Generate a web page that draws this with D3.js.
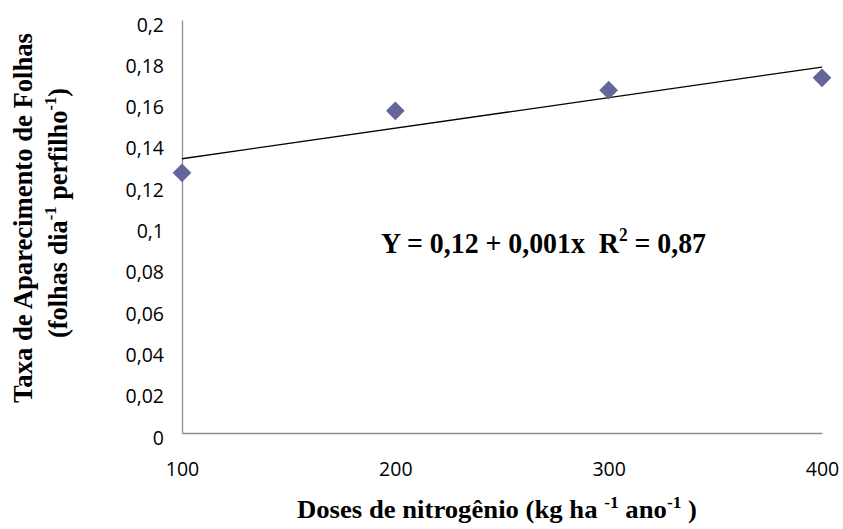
<!DOCTYPE html>
<html>
<head>
<meta charset="utf-8">
<script src="https://cdn.jsdelivr.net/npm/d3@7"></script>
<style>
  html, body { margin: 0; padding: 0; background: #ffffff; }
  svg { display: block; }
</style>
</head>
<body>
<svg id="chart" width="843" height="529"></svg>
<script>
// ---- data ----
const doses = [100, 200, 300, 400];
const taxa = [0.126, 0.156, 0.166, 0.172];
const xTickValues = [100, 200, 300, 400];
const yTickValues = [0, 0.02, 0.04, 0.06, 0.08, 0.1, 0.12, 0.14, 0.16, 0.18, 0.2];
const yTickLabels = ["0", "0,02", "0,04", "0,06", "0,08", "0,1", "0,12", "0,14", "0,16", "0,18", "0,2"];
const xTickLabels = ["100", "200", "300", "400"];

const svg = d3.select("#chart");
const x = d3.scaleLinear().domain([100, 400]).range([182, 822]);
const y = d3.scaleLinear().domain([0, 0.2]).range([433, 20]);

const tickFont = "'Open Sans', 'Noto Sans', sans-serif";
const serif = "'Liberation Serif', 'Times New Roman', serif";

// axes (no tick marks)
const yAxis = d3.axisLeft(y).tickValues(yTickValues).tickSize(0).tickPadding(0)
  .tickFormat((d, i) => yTickLabels[i]);
const gy = svg.append("g").attr("transform", `translate(${x.range()[0]},0)`).call(yAxis);
gy.select(".domain").attr("stroke", "#8c8c8c").attr("stroke-width", 1.3);
gy.selectAll(".tick text")
  .attr("x", -18).attr("dy", null).attr("y", 11)
  .attr("font-family", tickFont).attr("font-size", 19.5).attr("fill", "#000");

const xAxis = d3.axisBottom(x).tickValues(xTickValues).tickSize(0).tickPadding(0)
  .tickFormat((d, i) => xTickLabels[i]);
const gx = svg.append("g").attr("transform", `translate(0,${y(0)})`).call(xAxis);
gx.select(".domain").attr("stroke", "#8c8c8c").attr("stroke-width", 1.3);
gx.selectAll(".tick text")
  .attr("dy", null).attr("y", 43)
  .attr("font-family", tickFont).attr("font-size", 19.5).attr("fill", "#000");

// linear regression trend line
const mx = d3.mean(doses), my = d3.mean(taxa);
const slope = d3.sum(doses, (d, i) => (d - mx) * (taxa[i] - my)) / d3.sum(doses, d => (d - mx) ** 2);
const intercept = my - slope * mx;
const ends = [d3.min(doses), d3.max(doses)];
svg.append("path")
  .attr("d", d3.line().x(d => x(d)).y(d => y(intercept + slope * d))(ends))
  .attr("stroke", "#000").attr("stroke-width", 1.3).attr("fill", "none");

// points (diamonds)
const diamond = d3.symbol().type(d3.symbolSquare).size(175);
svg.append("g").selectAll("path").data(doses).join("path")
  .attr("d", diamond)
  .attr("transform", (d, i) => `translate(${x(d)},${y(taxa[i])}) rotate(45)`)
  .attr("fill", "#65659b");

// equation
const eq = svg.append("text")
  .attr("x", 381).attr("y", 253)
  .attr("font-family", serif).attr("font-weight", "bold").attr("font-size", 29)
  .attr("textLength", 325).attr("lengthAdjust", "spacingAndGlyphs")
  .attr("fill", "#000");
eq.append("tspan").text("Y = 0,12 + 0,001x\u00a0\u00a0R");
eq.append("tspan").attr("dy", -12).attr("font-size", 18).text("2");
eq.append("tspan").attr("dy", 12).text(" = 0,87");

// x axis title
const xt = svg.append("text")
  .attr("x", 297).attr("y", 518)
  .attr("font-family", serif).attr("font-weight", "bold").attr("font-size", 24.5)
  .attr("textLength", 400).attr("lengthAdjust", "spacingAndGlyphs")
  .attr("fill", "#000");
xt.append("tspan").text("Doses de nitrogênio (kg ha ");
xt.append("tspan").attr("dy", -10).attr("font-size", 16).text("-1");
xt.append("tspan").attr("dy", 10).text(" ano");
xt.append("tspan").attr("dy", -10).attr("font-size", 16).text("-1");
xt.append("tspan").attr("dy", 10).text(" )");

// y axis title (two lines)
const yt1 = svg.append("text")
  .attr("transform", "translate(32,403) rotate(-90)")
  .attr("x", 0).attr("y", 0)
  .attr("font-family", serif).attr("font-weight", "bold").attr("font-size", 27)
  .attr("textLength", 370).attr("lengthAdjust", "spacingAndGlyphs")
  .attr("fill", "#000")
  .text("Taxa de Aparecimento de Folhas");

const yt2 = svg.append("text")
  .attr("transform", "translate(67,338) rotate(-90)")
  .attr("x", 0).attr("y", 0)
  .attr("font-family", serif).attr("font-weight", "bold").attr("font-size", 27)
  .attr("textLength", 250).attr("lengthAdjust", "spacingAndGlyphs")
  .attr("fill", "#000");
yt2.append("tspan").text("(folhas dia");
yt2.append("tspan").attr("dy", -11).attr("font-size", 17).text("-1");
yt2.append("tspan").attr("dy", 11).text(" perfilho");
yt2.append("tspan").attr("dy", -11).attr("font-size", 17).text("-1");
yt2.append("tspan").attr("dy", 11).text(")");
</script>
</body>
</html>
